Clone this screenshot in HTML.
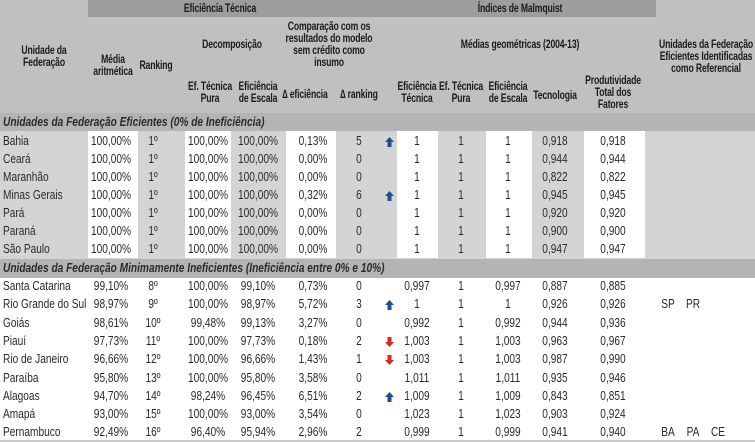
<!DOCTYPE html>
<html><head><meta charset="utf-8">
<style>
body{margin:0;width:755px;height:442px;overflow:hidden;background:#fff;font-family:"Liberation Sans",sans-serif;color:#2a2a2a}
.a{position:absolute;white-space:nowrap}
.h{font-size:12px;text-align:center;line-height:12px;transform:translateX(-50%) scaleX(.72);color:#1a1a1a;font-weight:bold;letter-spacing:-0.2px}
.c{font-size:13px;line-height:14px}
.cc{transform:translateX(-50%) scaleX(.78)}
.cl{transform:scaleX(.78);transform-origin:0 0}
</style></head><body>
<div id="root">
<div class="a" style="left:0;top:0;width:755px;height:113px;background:#bfc0c2"></div>
<div class="a" style="left:88px;top:0;width:568px;height:17px;background:#9c9d9f"></div>
<div class="a" style="left:0;top:131px;width:755px;height:128px;background:#d3d4d6"></div>
<div class="a" style="left:0;top:113px;width:755px;height:18px;background:#b3b4b6"></div>
<div class="a" style="left:0;top:259px;width:755px;height:19px;background:#b3b4b6"></div>
<div class="a" style="left:0;top:440px;width:755px;height:2px;background:#c8c9cb"></div>
</div>
<script>
const root=document.getElementById('root');
function add(html,cls,style,name){const d=document.createElement('div');d.className='a '+cls;d.style.cssText=style;d.innerHTML=html;


root.appendChild(d);return d;}
const whiteCols=[[88,50],[185,46],[286,50],[397,41],[486,46],[584,61]];
whiteCols.forEach((w,i)=>add('','', 'left:'+w[0]+'px;top:131px;width:'+w[1]+'px;height:127px;background:#fff','white-column'));
const headers=[
['Eficiência Técnica',220,2],['Índices de Malmquist',520,2],
['Unidade da<br>Federação',44,44],['Média<br>aritmética',113,53],['Ranking',156,59],
['Decomposição',232,38],['Comparação com os<br>resultados do modelo<br>sem crédito como<br>insumo',329,20],
['Ef. Técnica<br>Pura',210,80],['Eficiência<br>de Escala',258,80],['∆ eficiência',305,88],['∆ ranking',359,88],
['Médias geométricas (2004-13)',520,38],['Eficiência<br>Técnica',417,80],['Ef. Técnica<br>Pura',461,80],['Eficiência<br>de Escala',508,80],
['Tecnologia',555,89],['Produtividade<br>Total dos<br>Fatores',613,74],['Unidades da Federação<br>Eficientes Identificadas<br>como Referencial',706,38]];
headers.forEach(h=>add(h[0],'h','left:'+h[1]+'px;top:'+h[2]+'px','column-header'));
add('Unidades da Federação Eficientes (0% de Ineficiência)','c cl','left:3px;top:115px;font-style:italic;font-weight:bold','section-title-efficient');
add('Unidades da Federação Minimamente Ineficientes (Ineficiência entre 0% e 10%)','c cl','left:3px;top:261px;font-style:italic;font-weight:bold','section-title-minimal');
const names=['Bahia','Ceará','Maranhão','Minas Gerais','Pará','Paraná','São Paulo','Santa Catarina','Rio Grande do Sul','Goiás','Piauí','Rio de Janeiro','Paraíba','Alagoas','Amapá','Pernambuco'];
const media=['100,00%','100,00%','100,00%','100,00%','100,00%','100,00%','100,00%','99,10%','98,97%','98,61%','97,73%','96,66%','95,80%','94,70%','93,00%','92,49%'];
const ranking=['1º','1º','1º','1º','1º','1º','1º','8º','9º','10º','11º','12º','13º','14º','15º','16º'];
const efPura=['100,00%','100,00%','100,00%','100,00%','100,00%','100,00%','100,00%','100,00%','100,00%','99,48%','100,00%','100,00%','100,00%','98,24%','100,00%','96,40%'];
const efEscala=['100,00%','100,00%','100,00%','100,00%','100,00%','100,00%','100,00%','99,10%','98,97%','99,13%','97,73%','96,66%','95,80%','96,45%','93,00%','95,94%'];
const dEf=['0,13%','0,00%','0,00%','0,32%','0,00%','0,00%','0,00%','0,73%','5,72%','3,27%','0,18%','1,43%','3,58%','6,51%','3,54%','2,96%'];
const dRank=['5','0','0','6','0','0','0','0','3','0','2','1','0','2','0','2'];
const arrows=['up','','','up','','','','','up','','down','down','','up','',''];
const mEf=['1','1','1','1','1','1','1','0,997','1','0,992','1,003','1,003','1,011','1,009','1,023','0,999'];
const mPura=['1','1','1','1','1','1','1','1','1','1','1','1','1','1','1','1'];
const mEsc=['1','1','1','1','1','1','1','0,997','1','0,992','1,003','1,003','1,011','1,009','1,023','0,999'];
const tec=['0,918','0,944','0,822','0,945','0,920','0,900','0,947','0,887','0,926','0,944','0,963','0,987','0,935','0,843','0,903','0,941'];
const ptf=['0,918','0,944','0,822','0,945','0,920','0,900','0,947','0,885','0,926','0,936','0,967','0,990','0,946','0,851','0,924','0,940'];
const refs=[[],[],[],[],[],[],[],[],['SP','PR'],[],[],[],[],[],[],['BA','PA','CE']];
function rowY(i){return i<7?134+i*18:279+(i-7)*18.3;}
const cols=[[media,111,'media'],[ranking,153,'ranking'],[efPura,208,'ef-pura'],[efEscala,258,'ef-escala'],[dEf,313,'delta-eficiencia'],[dRank,359,'delta-ranking'],[mEf,417,'malm-ef-tecnica'],[mPura,461,'malm-ef-pura'],[mEsc,508,'malm-ef-escala'],[tec,555,'tecnologia'],[ptf,613,'ptf']];
names.forEach((n,i)=>{
 const y=rowY(i);
 add(n,'c cl','left:3px;top:'+y+'px','state-name');
 cols.forEach(c=>add(c[0][i],'c cc','left:'+c[1]+'px;top:'+y+'px',c[2]+'-cell'));
 refs[i].forEach((r,k)=>add(r,'c cc','left:'+(668+k*25)+'px;top:'+y+'px','reference-state'));
 if(arrows[i]){
  const up=arrows[i]==='up';
  const svg=up?'<svg width="9" height="10"><path d="M4.5 0L9 5H6.5V10H2.5V5H0Z" fill="#1f4f8f"/></svg>':'<svg width="9" height="10"><path d="M4.5 10L9 5H6.5V0H2.5V5H0Z" fill="#e2231f"/></svg>';
  add(svg,'','left:385px;top:'+(y+3)+'px;line-height:0',up?'arrow-up':'arrow-down');
 }
});
</script>
</body></html>
